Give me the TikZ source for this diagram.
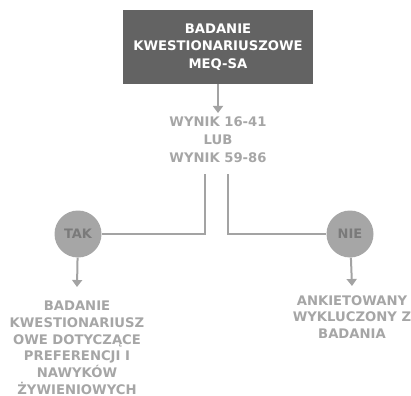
\documentclass[tikz,border=0pt]{standalone}
\usepackage{fontspec}
\setmainfont{DejaVu Sans}
\usetikzlibrary{arrows.meta, positioning}

\definecolor{boxgray}{HTML}{636363}
\definecolor{linegray}{HTML}{A3A3A3}
\definecolor{textgray}{HTML}{A6A6A6}
\definecolor{dotgray}{HTML}{7A7A7A}

\begin{document}
\begin{tikzpicture}[
  x=1pt, y=-1pt,
  topbox/.style = {rectangle, fill=boxgray, text=white, minimum width=190pt, minimum height=74pt, align=center, font=\fontsize{13.2}{17.5}\selectfont\bfseries},
  label text/.style = {align=center, text=textgray, inner sep=0pt, font=\fontsize{13.2}{16.7}\selectfont\bfseries},
  choice/.style = {circle, fill=textgray, text=dotgray, minimum size=47pt, inner sep=0pt, font=\fontsize{13}{14}\selectfont\bfseries},
  conn/.style = {draw=linegray, line width=2pt},
  >={Triangle[width=10pt, length=7pt]}
  ]
  \useasboundingbox (0,0) rectangle (411,395);
  \clip (0,0) rectangle (411,395);

  % Noeuds
  \node[topbox] (meq) at (218,47) {BADANIE\\KWESTIONARIUSZOWE\\MEQ-SA};
  \node[label text, anchor=north, font=\fontsize{13.2}{18}\selectfont\bfseries] (wynik) at (218,117) {WYNIK 16-41\\LUB\\WYNIK 59-86};
  \node[choice] (tak) at (78,234) {TAK};
  \node[choice] (nie) at (350,234) {NIE};
  \node[label text, anchor=north] (kwest) at (77,301) {BADANIE\\KWESTIONARIUSZ\\OWE DOTYCZĄCE\\PREFERENCJI I\\NAWYKÓW\\ŻYWIENIOWYCH};
  \node[label text, anchor=north] (wyklucz) at (352,295) {ANKIETOWANY\\WYKLUCZONY Z\\BADANIA};

  % Fleches
  \draw[conn, ->] (meq) -- ([yshift=4pt]wynik.north);
  \draw[conn] ([xshift=-13pt, yshift=-11pt]wynik.south) |- (tak);
  \draw[conn] ([xshift=10pt, yshift=-11pt]wynik.south) |- (nie);
  \draw[conn, ->] (tak) -- ([yshift=14pt]kwest.north);
  \draw[conn, ->] (nie) -- ([yshift=9pt]wyklucz.north);

\end{tikzpicture}
\end{document}
